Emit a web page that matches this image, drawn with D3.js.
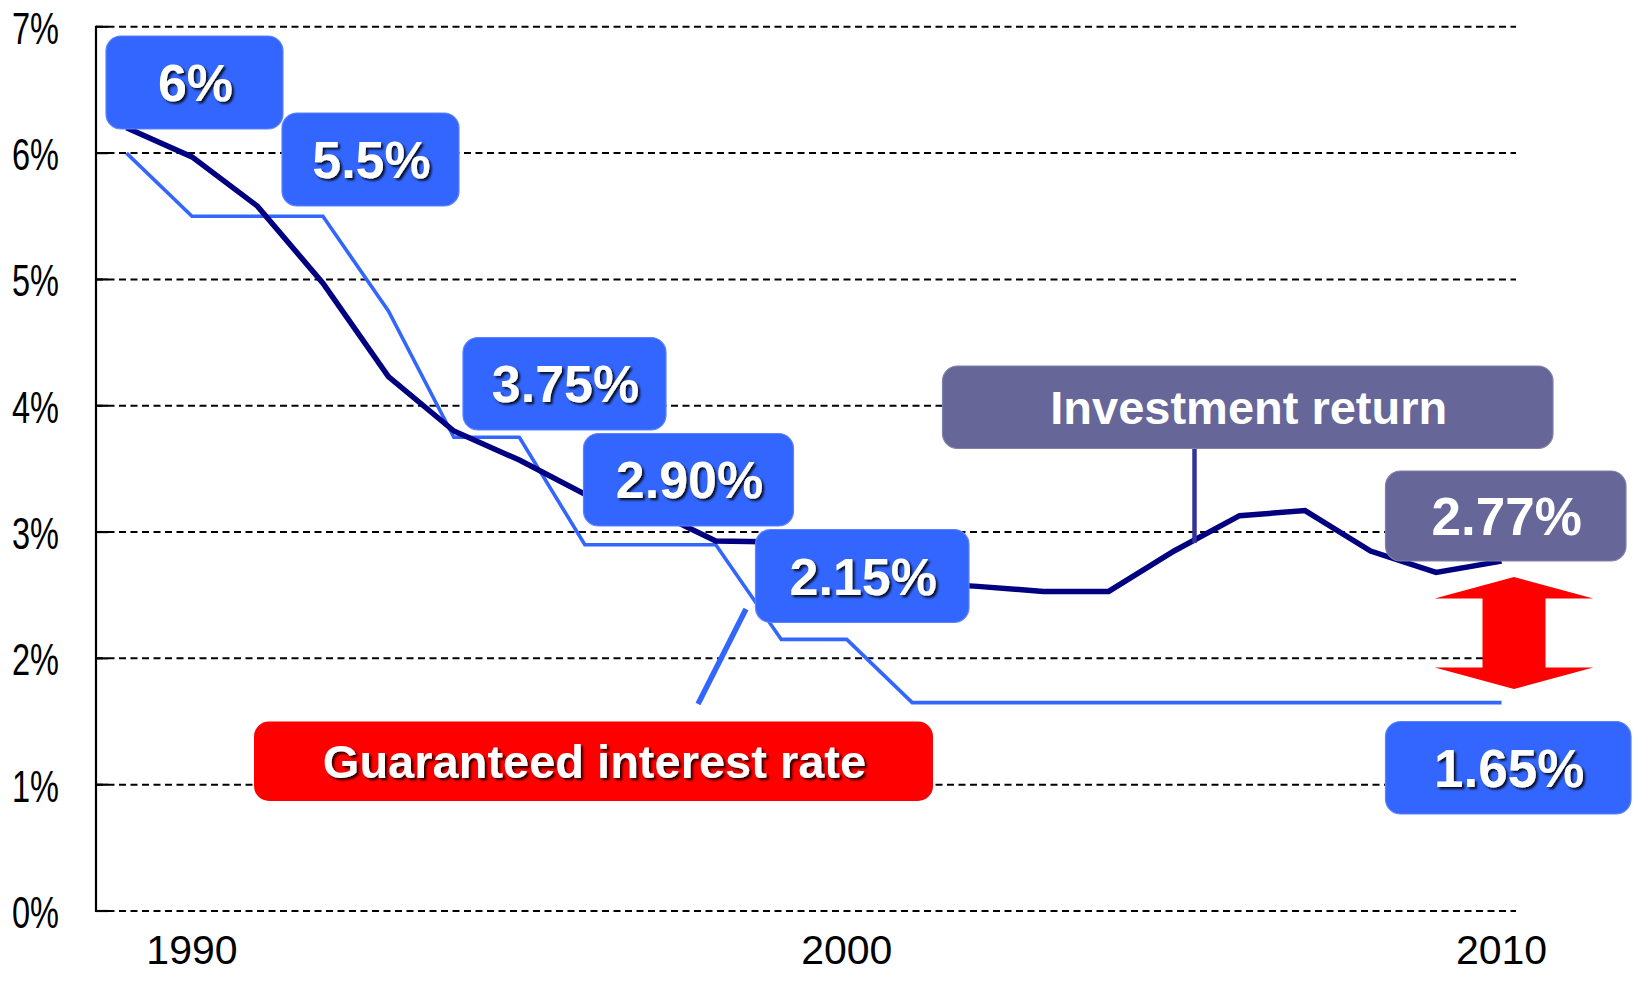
<!DOCTYPE html>
<html>
<head>
<meta charset="utf-8">
<script src="https://cdn.jsdelivr.net/npm/d3@7"></script>
<style>
  html, body { margin: 0; padding: 0; background: #fff; }
  svg { display: block; }
</style>
</head>
<body>
<svg id="chart" width="1642" height="981"></svg>
<script>
// ---------- data ----------
const years = [1989, 1990, 1991, 1992, 1993, 1994, 1995, 1996, 1997, 1998, 1999,
               2000, 2001, 2002, 2003, 2004, 2005, 2006, 2007, 2008, 2009, 2010];
const investmentReturn = [6.20, 5.97, 5.58, 4.97, 4.23, 3.80, 3.57, 3.30, 3.18, 2.93, 2.92,
                          2.70, 2.60, 2.57, 2.53, 2.53, 2.85, 3.13, 3.17, 2.85, 2.68, 2.77];
const guaranteedRate = [6.00, 5.50, 5.50, 5.50, 4.75, 3.75, 3.75, 2.90, 2.90, 2.90, 2.15,
                        2.15, 1.65, 1.65, 1.65, 1.65, 1.65, 1.65, 1.65, 1.65, 1.65, 1.65];
const yTicks = [0, 1, 2, 3, 4, 5, 6, 7];
const xTickYears = [1990, 2000, 2010];
const rateLabels = ["6%", "5.5%", "3.75%", "2.90%", "2.15%", "1.65%"];
const returnLabels = ["Investment return", "2.77%"];
const seriesLabel = "Guaranteed interest rate";

// ---------- layout ----------
const svg = d3.select("#chart");
const x = d3.scaleLinear().domain([1989, 2010]).range([126.5, 1501.5]);
const y = d3.scaleLinear().domain([0, 7]).range([911, 26.8]);
const axisX = 96, gridRight = 1516;

const BLUE = "#3366ff", NAVY = "#000080", PURPLE = "#666699", RED = "#ff0000";

const defs = svg.append("defs");
const f = defs.append("filter").attr("id", "shadow")
  .attr("x", "-10%").attr("y", "-10%").attr("width", "130%").attr("height", "140%");
f.append("feDropShadow").attr("dx", 2.2).attr("dy", 2.2).attr("stdDeviation", 0.9)
  .attr("flood-color", "#000").attr("flood-opacity", 0.85);

// gridlines
const grid = svg.append("g");
grid.selectAll("line.grid").data(yTicks).join("line")
  .attr("x1", axisX).attr("x2", gridRight)
  .attr("y1", d => y(d)).attr("y2", d => y(d))
  .attr("stroke", "#000").attr("stroke-width", 2).attr("stroke-dasharray", "7,4.5");
// ticks (inward)
grid.selectAll("line.tick").data(yTicks).join("line")
  .attr("x1", axisX).attr("x2", axisX + 12)
  .attr("y1", d => y(d)).attr("y2", d => y(d))
  .attr("stroke", "#000").attr("stroke-width", 2.2);
// y axis line
svg.append("line").attr("x1", axisX).attr("x2", axisX)
  .attr("y1", y(7) - 1).attr("y2", y(0) + 1)
  .attr("stroke", "#000").attr("stroke-width", 2.2);

// y labels (condensed)
svg.append("g").selectAll("text").data(yTicks).join("text")
  .attr("transform", d => `translate(59, ${y(d) + 17}) scale(0.74,1)`)
  .attr("text-anchor", "end")
  .attr("font-family", "Liberation Sans, Arial, sans-serif")
  .attr("font-size", 44)
  .attr("fill", "#000")
  .text(d => d + "%");

// x labels
svg.append("g").selectAll("text").data(xTickYears).join("text")
  .attr("x", d => x(d)).attr("y", 964)
  .attr("text-anchor", "middle")
  .attr("font-family", "Liberation Sans, Arial, sans-serif")
  .attr("font-size", 41)
  .attr("fill", "#000")
  .text(d => d);

// lines
const line = d3.line().x(d => x(d[0])).y(d => y(d[1]));
svg.append("path")
  .datum(years.map((yr, i) => [yr, guaranteedRate[i]]))
  .attr("d", line).attr("fill", "none")
  .attr("stroke", BLUE).attr("stroke-width", 3.6).attr("stroke-linejoin", "miter");
svg.append("path")
  .datum(years.map((yr, i) => [yr, investmentReturn[i]]))
  .attr("d", line).attr("fill", "none")
  .attr("stroke", NAVY).attr("stroke-width", 5.5).attr("stroke-linejoin", "miter");

// connectors
svg.append("line").attr("x1", 698).attr("y1", 704).attr("x2", 746).attr("y2", 609)
  .attr("stroke", BLUE).attr("stroke-width", 5.5);
svg.append("line").attr("x1", 1194.5).attr("y1", 447).attr("x2", 1194.5).attr("y2", 543)
  .attr("stroke", "#333399").attr("stroke-width", 4.5);

// double arrow
const ax = 1514, shaftHalf = 31.5, headHalf = 79.3;
const arrowPts = [
  [ax, 577], [ax + headHalf, 598.5], [ax + shaftHalf, 598.5],
  [ax + shaftHalf, 667.5], [ax + headHalf, 667.5], [ax, 689],
  [ax - headHalf, 667.5], [ax - shaftHalf, 667.5], [ax - shaftHalf, 598.5],
  [ax - headHalf, 598.5]
];
svg.append("polygon").attr("points", arrowPts.map(p => p.join(",")).join(" "))
  .attr("fill", RED);

// callout boxes
const boxes = [
  { text: rateLabels[0], x0: 106, y0: 36, x1: 283, y1: 129, fill: BLUE, size: 52, shadow: true },
  { text: rateLabels[1], x0: 282, y0: 113, x1: 459, y1: 206, fill: BLUE, size: 52, shadow: true },
  { text: rateLabels[2], x0: 463, y0: 337.5, x1: 666, y1: 430, fill: BLUE, size: 52, shadow: true },
  { text: rateLabels[3], x0: 583.5, y0: 433.5, x1: 793.5, y1: 526, fill: BLUE, size: 52, shadow: true },
  { text: rateLabels[4], x0: 755.5, y0: 529.5, x1: 969, y1: 622.5, fill: BLUE, size: 52, shadow: true },
  { text: rateLabels[5], x0: 1385.5, y0: 721.5, x1: 1631, y1: 814, fill: BLUE, size: 53, shadow: true },
  { text: returnLabels[0], x0: 942.5, y0: 366, x1: 1553, y1: 448.5, fill: PURPLE, size: 47, shadow: false },
  { text: returnLabels[1], x0: 1385.5, y0: 471, x1: 1626, y1: 561, fill: PURPLE, size: 53, shadow: false },
  { text: seriesLabel, x0: 254, y0: 721.5, x1: 933, y1: 801, fill: RED, size: 47, shadow: true }
];
const bg = svg.append("g").selectAll("g").data(boxes).join("g");
bg.append("rect")
  .attr("x", d => d.x0).attr("y", d => d.y0)
  .attr("width", d => d.x1 - d.x0).attr("height", d => d.y1 - d.y0)
  .attr("rx", 15).attr("ry", 15)
  .attr("fill", d => d.fill)
  .attr("stroke", d => d.fill === BLUE ? "#5c82ff" : (d.fill === PURPLE ? "#8080aa" : "none"))
  .attr("stroke-width", 1.2);
bg.append("text")
  .attr("x", d => (d.x0 + d.x1) / 2 + 1)
  .attr("y", d => (d.y0 + d.y1) / 2 + d.size * 0.36)
  .attr("text-anchor", "middle")
  .attr("font-family", "Liberation Sans, Arial, sans-serif")
  .attr("font-weight", "bold")
  .attr("font-size", d => d.size)
  .attr("fill", "#fff")
  .attr("filter", d => d.shadow ? "url(#shadow)" : null)
  .text(d => d.text);
</script>
</body>
</html>
